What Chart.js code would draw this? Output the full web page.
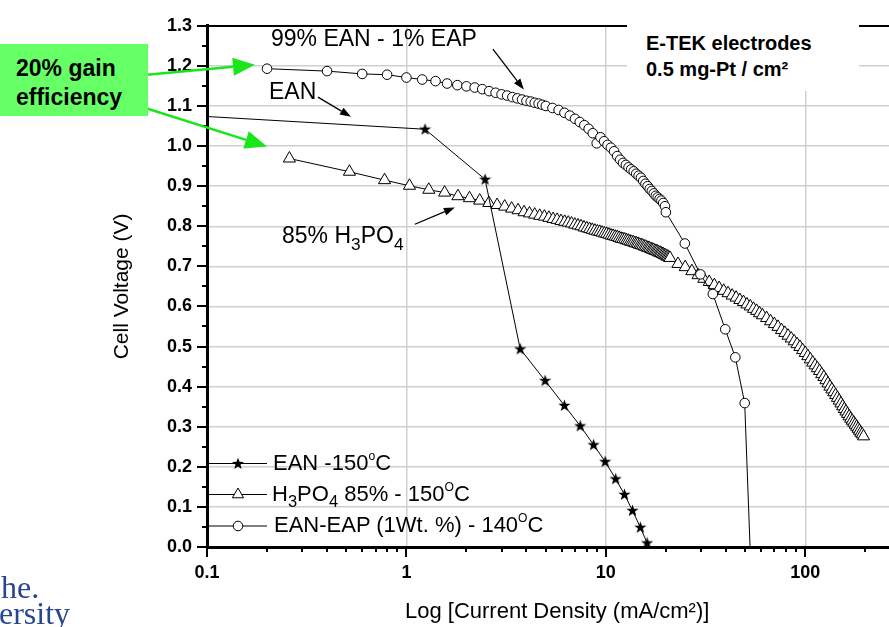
<!DOCTYPE html>
<html>
<head>
<meta charset="utf-8">
<script src="https://cdn.jsdelivr.net/npm/chart.js@4.4.0/dist/chart.umd.min.js"></script>
<style>
  body { margin: 0; background: #fff; }
  #wrap { position: relative; width: 889px; height: 627px; overflow: hidden; font-family: "Liberation Sans", Arial, sans-serif; color: #000; }
  #wrap canvas, #wrap svg { position: absolute; left: 0; top: 0; }
  .note { position: absolute; white-space: nowrap; line-height: 1; }
  .sup { font-size: 0.55em; position: relative; top: -0.85em; }
  .sub { font-size: 0.75em; position: relative; top: 0.38em; }
  .lg { font-size: 22px; }
  #etek { position: absolute; left: 627px; top: 19px; width: 213px; height: 61px; background: #fff; padding: 11px 0 0 19px; font-weight: bold; font-size: 20px; line-height: 26px; white-space: nowrap; }
  #gain { position: absolute; left: 0; top: 44px; width: 132px; height: 62px; background: #66ff66; padding: 10px 0 0 16px; font-weight: bold; font-size: 23px; line-height: 29px; }
  .logo { position: absolute; font-family: "Liberation Serif", serif; color: #27468f; font-size: 32px; line-height: 1; }
</style>
</head>
<body>
<div id="wrap">
  <canvas id="chart" width="889" height="627"></canvas>
  <svg id="legendMarks" width="889" height="627"></svg>
  <div class="note" style="left:271px; top:27px; font-size:23px;">99% EAN - 1% EAP</div>
  <div class="note" style="left:269px; top:80px; font-size:23px;">EAN</div>
  <div class="note" style="left:282px; top:224px; font-size:23px;">85% H<span class="sub">3</span>PO<span class="sub">4</span></div>
  <div id="etek">E-TEK electrodes<br>0.5 mg-Pt / cm²</div>
  <div id="gain">20% gain<br>efficiency</div>
  <div class="note lg" style="left:273px; top:452px;">EAN -150<span class="sup">o</span>C</div>
  <div class="note lg" style="left:272px; top:483px;">H<span class="sub">3</span>PO<span class="sub">4</span> 85% - 150<span class="sup">O</span>C</div>
  <div class="note lg" style="left:274px; top:514px;">EAN-EAP (1Wt. %) - 140<span class="sup">O</span>C</div>
  <div class="logo" style="left:1px; top:571px;">he.</div>
  <div class="logo" style="left:-1px; top:597px;">ersity</div>
</div>
<script>
// EAN - 150 C (stars)
var ean_current = [0.0125, 1.24, 2.48, 3.72, 4.96, 6.2, 7.44, 8.68, 9.92, 11.2, 12.4, 13.6, 14.9, 16.1];
var ean_voltage = [1.100, 1.042, 0.917, 0.494, 0.415, 0.353, 0.302, 0.255, 0.213, 0.170, 0.131, 0.091, 0.049, 0.010];

// H3PO4 85% - 150 C (triangles)
var h3po4_current = [
  0.259, 0.518, 0.777, 1.036, 1.295, 1.554, 1.813, 2.072, 2.331, 2.59,
  2.85, 3.11, 3.37, 3.63, 3.89, 4.14, 4.40, 4.66, 4.92, 5.18, 5.44, 5.70, 5.96, 6.22, 6.48, 6.73, 6.99, 7.25, 7.51, 7.77,
  8.03, 8.29, 8.55, 8.81, 9.07, 9.32, 9.58, 9.84, 10.10, 10.36, 10.62, 10.88, 11.14, 11.40, 11.66, 11.91, 12.17, 12.43, 12.69, 12.95,
  13.21, 13.47, 13.73, 13.99, 14.25, 14.50, 14.76, 15.02, 15.28, 15.54, 15.80, 16.06, 16.32, 16.58, 16.84, 17.09, 17.35, 17.61, 17.87, 18.13,
  18.39, 18.65, 18.91, 19.17, 19.43, 19.68, 19.94, 20.20, 20.46, 20.72, 20.98,
  23, 25, 27, 29, 31, 33, 35, 37, 39, 41, 43, 45, 47, 49, 51, 53, 55, 57, 59, 61,
  64, 67, 70, 73, 76, 79, 82, 85, 88, 91, 94, 97, 100, 103, 106, 109, 112, 115, 118, 121,
  124, 127, 130, 133, 136, 139, 142, 145, 148, 151, 154, 157, 160, 163, 166, 169, 172, 175, 178, 181,
  184, 187, 190, 193, 196
];
var h3po4_voltage = [
  0.969, 0.936, 0.915, 0.901, 0.891, 0.884, 0.875, 0.870, 0.864, 0.858,
  0.853, 0.849, 0.844, 0.840, 0.835, 0.832, 0.829, 0.826, 0.824, 0.821, 0.818, 0.816, 0.813, 0.811, 0.809, 0.807, 0.804, 0.802, 0.800, 0.797,
  0.795, 0.793, 0.791, 0.789, 0.787, 0.786, 0.784, 0.782, 0.781, 0.779, 0.777, 0.776, 0.774, 0.773, 0.771, 0.769, 0.768, 0.767, 0.765, 0.764,
  0.762, 0.761, 0.760, 0.758, 0.757, 0.756, 0.754, 0.753, 0.752, 0.750, 0.749, 0.747, 0.746, 0.745, 0.743, 0.742, 0.741, 0.739, 0.738, 0.737,
  0.735, 0.734, 0.733, 0.731, 0.730, 0.728, 0.727, 0.725, 0.724, 0.722, 0.721,
  0.706, 0.698, 0.688, 0.678, 0.669, 0.661, 0.653, 0.646, 0.639, 0.633, 0.627, 0.622, 0.616, 0.611, 0.605, 0.600, 0.594, 0.589, 0.583, 0.578,
  0.571, 0.563, 0.556, 0.549, 0.541, 0.534, 0.527, 0.520, 0.513, 0.506, 0.499, 0.491, 0.484, 0.476, 0.468, 0.460, 0.453, 0.446, 0.439, 0.431,
  0.424, 0.416, 0.408, 0.400, 0.393, 0.386, 0.379, 0.372, 0.365, 0.358, 0.351, 0.344, 0.338, 0.332, 0.326, 0.320, 0.315, 0.310, 0.305, 0.300,
  0.295, 0.290, 0.285, 0.281, 0.276
];

// EAN-EAP (1 wt. %) - 140 C (circles)
var eap_current = [
  0.2, 0.4, 0.6, 0.8, 1.0, 1.2, 1.4, 1.6, 1.8, 2.0,
  2.2, 2.4, 2.6, 2.8, 3.0, 3.2, 3.4, 3.6, 3.8, 4.0, 4.2, 4.4, 4.6, 4.8, 5.0,
  5.4, 5.8, 6.2, 6.6, 7.0, 7.4, 7.8, 8.2, 8.6, 9.0, 9.4, 9.8, 10.2, 10.6, 11.0, 11.4, 11.8, 12.2, 12.6, 13.0,
  13.4, 13.8, 14.2, 14.6, 15.0, 15.4, 15.8, 16.2, 16.6, 17.0, 17.4, 17.8, 18.2, 18.6, 19.0, 19.4, 19.8, 20.0,
  24.9, 29.8, 34.4, 39.7, 44.6, 49.7, 53.8
];
var eap_voltage = [
  1.193, 1.187, 1.180, 1.178, 1.171, 1.166, 1.162, 1.156, 1.152, 1.149,
  1.146, 1.142, 1.137, 1.133, 1.129, 1.126, 1.122, 1.119, 1.116, 1.113, 1.111, 1.108, 1.106, 1.103, 1.100,
  1.095, 1.090, 1.083, 1.076, 1.068, 1.060, 1.052, 1.043, 1.032, 1.007, 1.022, 1.012, 1.003, 0.996, 0.987, 0.975, 0.966, 0.958, 0.953, 0.947,
  0.942, 0.937, 0.931, 0.926, 0.921, 0.913, 0.906, 0.900, 0.893, 0.888, 0.882, 0.876, 0.872, 0.868, 0.864, 0.858, 0.850, 0.835,
  0.757, 0.680, 0.631, 0.543, 0.473, 0.359, -0.100
];

var x_labelled_ticks = [0.1, 1, 10, 100];
var y_min = 0, y_max = 1.3, y_step = 0.1;
var x_min = 0.1, x_max = 263;

function toPoints(xs, ys) {
  return xs.map(function (x, i) { return { x: x, y: ys[i] }; });
}

function starPath(ctx, cx, cy, R, r) {
  ctx.beginPath();
  for (var i = 0; i < 10; i++) {
    var a = -Math.PI / 2 + i * Math.PI / 5;
    var rad = i % 2 ? r : R;
    ctx.lineTo(cx + rad * Math.cos(a), cy + rad * Math.sin(a));
  }
  ctx.closePath();
}

var starImg = document.createElement('canvas');
starImg.width = 13; starImg.height = 13;
var sctx = starImg.getContext('2d');
sctx.fillStyle = '#000';
starPath(sctx, 6.5, 6.8, 6.4, 2.6);
sctx.fill();

function isDecade(v) {
  var l = Math.log10(v);
  return Math.abs(l - Math.round(l)) < 1e-6;
}

// annotation arrows, in data units
var arrows = [
  { from: [0.0456, 1.176], to: [0.174, 1.203], color: '#19e619', width: 2.5, head: 22, half: 9 },
  { from: [0.0456, 1.100], to: [0.200, 0.999], color: '#19e619', width: 2.5, head: 22, half: 9 },
  { from: [2.715, 1.242], to: [3.88, 1.141], color: '#000', width: 1.3, head: 11, half: 4 },
  { from: [0.360, 1.122], to: [0.527, 1.073], color: '#000', width: 1.3, head: 11, half: 4 },
  { from: [1.103, 0.805], to: [1.750, 0.847], color: '#000', width: 1.3, head: 11, half: 4 }
];

var tickMarks = {
  id: 'tickMarks',
  afterDraw: function (chart) {
    var ctx = chart.ctx, area = chart.chartArea;
    var xs = chart.scales.x, ys = chart.scales.y;
    ctx.save();
    ctx.strokeStyle = '#000';
    ctx.lineWidth = 2;
    ctx.beginPath();
    ys.ticks.forEach(function (t) {
      var py = Math.round(ys.getPixelForValue(t.value));
      ctx.moveTo(area.left, py); ctx.lineTo(area.left - 10, py);
      if (t.value < y_max - 0.01) {
        var pm = Math.round(ys.getPixelForValue(t.value + y_step / 2));
        ctx.moveTo(area.left, pm); ctx.lineTo(area.left - 5, pm);
      }
    });
    xs.ticks.forEach(function (t) {
      var v = t.value;
      var m = v / Math.pow(10, Math.floor(Math.log10(v) + 1e-9));
      if (Math.abs(m - Math.round(m)) > 1e-6) return;
      var px = Math.round(xs.getPixelForValue(v));
      var len = Math.round(m) === 1 ? 10 : 5;
      ctx.moveTo(px, area.bottom); ctx.lineTo(px, area.bottom + len);
    });
    ctx.stroke();
    ctx.restore();
  }
};

var arrowPlugin = {
  id: 'arrows',
  afterDraw: function (chart) {
    var ctx = chart.ctx, xs = chart.scales.x, ys = chart.scales.y;
    ctx.save();
    arrows.forEach(function (a) {
      var x1 = xs.getPixelForValue(a.from[0]), y1 = ys.getPixelForValue(a.from[1]);
      var x2 = xs.getPixelForValue(a.to[0]), y2 = ys.getPixelForValue(a.to[1]);
      var ang = Math.atan2(y2 - y1, x2 - x1);
      var bx = x2 - a.head * Math.cos(ang), by = y2 - a.head * Math.sin(ang);
      ctx.strokeStyle = a.color; ctx.fillStyle = a.color; ctx.lineWidth = a.width;
      ctx.beginPath(); ctx.moveTo(x1, y1); ctx.lineTo(bx, by); ctx.stroke();
      ctx.beginPath();
      ctx.moveTo(x2, y2);
      ctx.lineTo(bx + a.half * Math.sin(ang), by - a.half * Math.cos(ang));
      ctx.lineTo(bx - a.half * Math.sin(ang), by + a.half * Math.cos(ang));
      ctx.closePath(); ctx.fill();
    });
    ctx.restore();
  }
};

var tickFont = { family: "'Liberation Sans', Arial, sans-serif", size: 18, weight: 'bold' };
var titleFont = { family: "'Liberation Sans', Arial, sans-serif", size: 22 };

var chart = new Chart(document.getElementById('chart').getContext('2d'), {
  type: 'scatter',
  data: {
    datasets: [
      {
        label: 'EAN -150°C',
        data: toPoints(ean_current, ean_voltage),
        showLine: true, borderColor: '#000', borderWidth: 1,
        pointStyle: starImg, pointRadius: 6, backgroundColor: '#000'
      },
      {
        label: 'EAN-EAP (1Wt. %) - 140°C',
        data: toPoints(eap_current, eap_voltage),
        showLine: true, borderColor: '#000', borderWidth: 1,
        pointStyle: 'circle', pointRadius: 4.8, pointBorderWidth: 1,
        pointBackgroundColor: '#fff', pointBorderColor: '#000'
      },
      {
        label: 'H3PO4 85% - 150°C',
        data: toPoints(h3po4_current, h3po4_voltage),
        showLine: true, borderColor: '#000', borderWidth: 1,
        pointStyle: 'triangle', pointRadius: 7, pointBorderWidth: 1,
        pointBackgroundColor: '#fff', pointBorderColor: '#000'
      }
    ]
  },
  options: {
    responsive: false,
    animation: false,
    events: [],
    layout: { autoPadding: false, padding: { left: 110, top: 17, right: 0, bottom: 2 } },
    plugins: { legend: { display: false }, tooltip: { enabled: false } },
    scales: {
      x: {
        type: 'logarithmic',
        min: x_min, max: x_max,
        afterFit: function (scale) { scale.height = 78; scale.paddingLeft = 0; scale.paddingRight = 0; },
        border: { color: '#000', width: 3 },
        grid: {
          drawTicks: false,
          color: function (c) { return (c.tick && isDecade(c.tick.value) && c.tick.value > x_min) ? '#cfcfcf' : 'rgba(0,0,0,0)'; },
          lineWidth: 1.5
        },
        ticks: {
          autoSkip: false, maxRotation: 0, padding: 15, color: '#000', font: tickFont,
          callback: function (v) {
            for (var i = 0; i < x_labelled_ticks.length; i++) {
              if (Math.abs(v - x_labelled_ticks[i]) < 1e-9) return String(x_labelled_ticks[i]);
            }
            return '';
          }
        },
        title: { display: true, text: '   Log [Current Density (mA/cm²)]', color: '#000', font: titleFont, padding: 0 }
      },
      y: {
        min: y_min, max: y_max,
        afterFit: function (scale) { scale.width = 97; },
        border: { color: '#000', width: 3 },
        grid: {
          drawTicks: false,
          color: function (c) { return (c.tick && Math.abs(c.tick.value - y_max) < 1e-6) ? '#000' : '#cfcfcf'; },
          lineWidth: function (c) { return (c.tick && Math.abs(c.tick.value - y_max) < 1e-6) ? 2 : 1.5; }
        },
        ticks: {
          stepSize: y_step, padding: 15, color: '#000', font: tickFont,
          callback: function (v) { return Number(v).toFixed(1); }
        },
        title: { display: true, text: 'Cell Voltage (V)', color: '#000', font: { family: "'Liberation Sans', Arial, sans-serif", size: 21 }, padding: 0 }
      }
    }
  },
  plugins: [tickMarks, arrowPlugin]
});

// legend swatches (line + marker), drawn next to the HTML legend text
(function () {
  var rows = [463.5, 494.5, 526];
  var svg = '';
  rows.forEach(function (y) {
    svg += '<line x1="208" y1="' + y + '" x2="267" y2="' + y + '" stroke="#000" stroke-width="1"/>';
  });
  var pts = [];
  for (var i = 0; i < 10; i++) {
    var a = -Math.PI / 2 + i * Math.PI / 5, r = i % 2 ? 2.6 : 6.2;
    pts.push((238 + r * Math.cos(a)).toFixed(2) + ',' + (rows[0] + 0.4 + r * Math.sin(a)).toFixed(2));
  }
  svg += '<polygon points="' + pts.join(' ') + '" fill="#000"/>';
  var ty = rows[1];
  svg += '<polygon points="238,' + (ty - 6.5) + ' ' + (238 - 5.6) + ',' + (ty + 3.25) + ' ' + (238 + 5.6) + ',' + (ty + 3.25) + '" fill="#fff" stroke="#000" stroke-width="1"/>';
  svg += '<circle cx="238" cy="' + rows[2] + '" r="4.8" fill="#fff" stroke="#000" stroke-width="1"/>';
  document.getElementById('legendMarks').innerHTML = svg;
})();
</script>
</body>
</html>
